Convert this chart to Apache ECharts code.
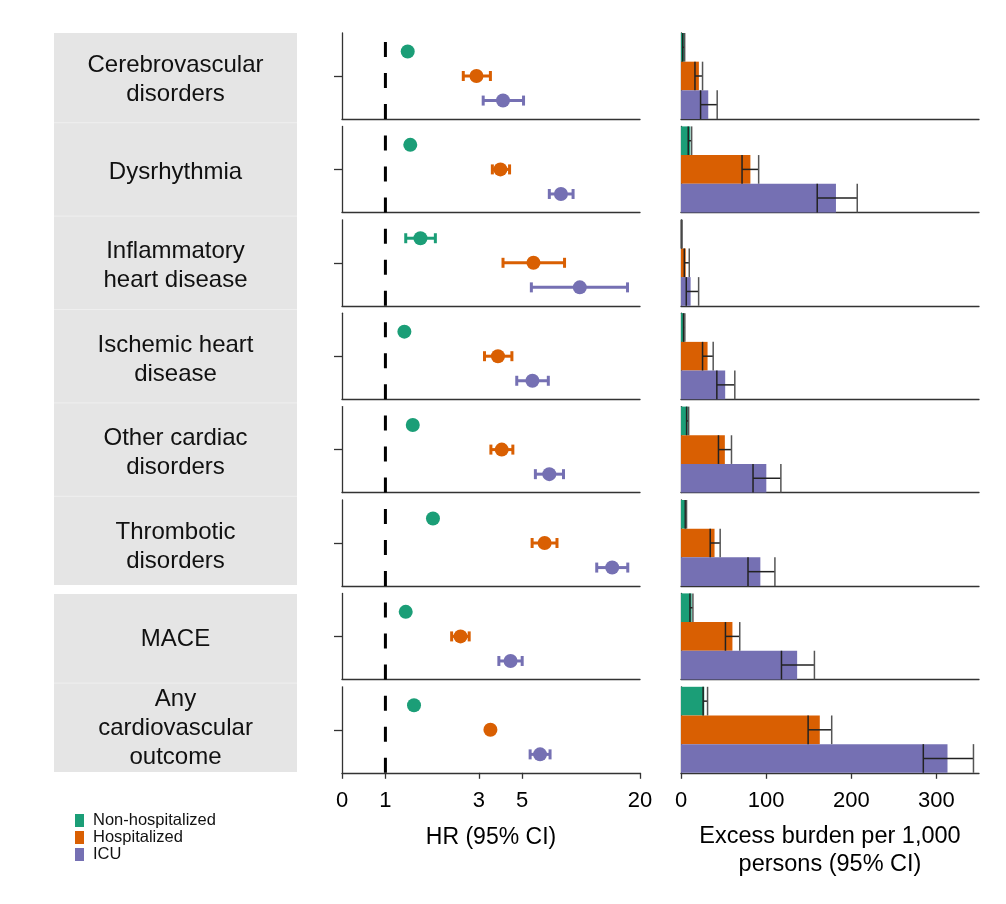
<!DOCTYPE html>
<html><head><meta charset="utf-8">
<script src="https://cdn.jsdelivr.net/npm/echarts@6/dist/echarts.min.js"></script>
<style>html,body{margin:0;padding:0;background:#fff}#c{width:1006px;height:904px}</style>
</head><body><div id="c"></div>
<script>
// ---- data ----
const outcomes = ['Cerebrovascular\ndisorders','Dysrhythmia','Inflammatory\nheart disease','Ischemic heart\ndisease','Other cardiac\ndisorders','Thrombotic\ndisorders','MACE','Any\ncardiovascular\noutcome'];
const groups = ['Non-hospitalized','Hospitalized','ICU'];
const colors = ['#1b9e77','#d95f02','#7570b3'];
// HR [estimate, lower, upper]
const hrNonHosp = [[1.30,1.27,1.33],[1.34,1.31,1.38],[1.51,1.27,1.80],[1.25,1.22,1.28],[1.38,1.35,1.41],[1.75,1.71,1.79],[1.27,1.25,1.29],[1.40,1.38,1.42]];
const hrHosp    = [[2.92,2.50,3.44],[3.87,3.52,4.31],[5.71,3.99,8.23],[3.76,3.21,4.43],[3.93,3.46,4.48],[6.51,5.62,7.53],[2.42,2.18,2.68],[3.44,3.33,3.56]];
const hrICU     = [[3.99,3.16,5.08],[7.89,6.88,9.10],[9.85,5.57,17.27],[5.64,4.69,6.80],[6.88,5.84,8.13],[14.42,12.02,17.32],[4.36,3.80,5.00],[6.17,5.49,6.94]];
// Excess burden per 1,000 [estimate, lower, upper]
const ebNonHosp = [[3.5,2.0,4.3],[11,8.5,12.5],[0.8,0.4,1.2],[3.9,3.0,4.5],[8,6.6,9],[5.8,5.0,6.5],[12.5,10.5,14],[27.3,26,31.2]];
const ebHosp    = [[21,16.4,25.3],[81.5,71.7,91.2],[5.5,3.9,9.7],[31.2,25.3,37.8],[51.5,44,59.3],[39.4,34.3,46],[60.4,52.2,69],[163,149.3,177]];
const ebICU     = [[32,23,42.5],[182,160,207],[11.3,6.2,20.7],[51.9,42.1,63.2],[100.2,84.6,117.3],[93.2,78.7,110.3],[136.4,118,156.7],[313,284.6,343.5]];
const hrTickValues = [0.6,1,3,5,20];
const hrTickLabels = ['0','1','3','5','20'];
const ebTickValues = [0,100,200,300];

// ---- build ----
const hrData = [hrNonHosp, hrHosp, hrICU];
const ebData = [ebNonHosp, ebHosp, ebICU];
const FONT = '"Liberation Sans", Arial, Helvetica, sans-serif';
const rowTop0 = 33, rowPitch = 93.4, rowH = 86;
const hrMin = Math.log10(0.6), hrMax = Math.log10(20);
const axisLineStyle = {color:'#333', width:1.3};
const fmtHR = v => { let best=0, d=1e9; hrTickValues.forEach((t,i)=>{const dd=Math.abs(Math.log10(t)-v); if(dd<d){d=dd;best=i;}}); return hrTickLabels[best]; };

const grids=[], xAxes=[], yAxes=[], series=[], graphics=[];
graphics.push({type:'rect', shape:{x:54,y:33,width:243,height:552}, style:{fill:'#e5e5e5'}, z:0});
graphics.push({type:'rect', shape:{x:54,y:594,width:243,height:178}, style:{fill:'#e5e5e5'}, z:0});

for (let r=0; r<8; r++) {
  const top = rowTop0 + r*rowPitch;
  const last = r===7;
  grids.push({left:342, top:top, width:298, height:rowH});
  grids.push({left:681, top:top, width:298, height:rowH});
  const gi0 = 2*r, gi1 = 2*r+1;
  xAxes.push({gridIndex:gi0, type:'value', min:hrMin, max:hrMax,
    axisLine:{show:true, onZero:false, lineStyle:axisLineStyle},
    axisTick:{show:last, customValues:hrTickValues.map(Math.log10), length:6, lineStyle:axisLineStyle},
    axisLabel:{show:last, customValues:hrTickValues.map(Math.log10), formatter:fmtHR, fontSize:22, color:'#000', margin:17, fontFamily:FONT},
    splitLine:{show:false},
    name: last ? 'HR (95% CI)' : '', nameLocation:'middle', nameGap:53,
    nameTextStyle:{fontSize:23, color:'#000', fontFamily:FONT}});
  yAxes.push({gridIndex:gi0, type:'value', min:0.25, max:3.75,
    axisLine:{show:true, onZero:false, lineStyle:axisLineStyle},
    axisTick:{show:true, customValues:[2], length:8, lineStyle:axisLineStyle},
    axisLabel:{show:false}, splitLine:{show:false}});
  xAxes.push({gridIndex:gi1, type:'value', min:0, max:350,
    axisLine:{show:true, onZero:false, lineStyle:axisLineStyle},
    axisTick:{show:last, customValues:ebTickValues, length:6, lineStyle:axisLineStyle},
    axisLabel:{show:last, customValues:ebTickValues, fontSize:22, color:'#000', margin:17, fontFamily:FONT},
    splitLine:{show:false},
    name: last ? 'Excess burden per 1,000\npersons (95% CI)' : '', nameLocation:'middle', nameGap:50,
    nameTextStyle:{fontSize:23.5, color:'#000', lineHeight:28, fontFamily:FONT}});
  yAxes.push({gridIndex:gi1, type:'category', data:groups, inverse:true,
    axisLine:{show:true, onZero:false, lineStyle:axisLineStyle},
    axisTick:{show:false}, axisLabel:{show:false}, splitLine:{show:false}});

  // reference line at HR = 1
  series.push({type:'line', xAxisIndex:gi0, yAxisIndex:gi0, data:[[0,0.25],[0,3.75]],
    symbol:'none', silent:true, z:1, lineStyle:{color:'#000', width:3, type:[15,16]}});
  // HR error bars
  series.push({type:'custom', xAxisIndex:gi0, yAxisIndex:gi0, silent:true, z:2,
    data: groups.map((g,k)=>[Math.log10(hrData[k][r][1]), Math.log10(hrData[k][r][2]), 3-k, k]),
    encode:{x:[0,1], y:2},
    renderItem:(params, api)=>{
      const a = api.coord([api.value(0), api.value(2)]);
      const b = api.coord([api.value(1), api.value(2)]);
      const c = colors[api.value(3)];
      const st = {stroke:c, lineWidth:3};
      return {type:'group', children:[
        {type:'line', shape:{x1:a[0],y1:a[1],x2:b[0],y2:b[1]}, style:st},
        {type:'line', shape:{x1:a[0],y1:a[1]-5,x2:a[0],y2:a[1]+5}, style:st},
        {type:'line', shape:{x1:b[0],y1:b[1]-5,x2:b[0],y2:b[1]+5}, style:st}
      ]};
    }});
  groups.forEach((g,k)=>{
    series.push({type:'scatter', name:g, xAxisIndex:gi0, yAxisIndex:gi0, z:3,
      data:[[Math.log10(hrData[k][r][0]), 3-k]], symbol:'circle', symbolSize:14,
      itemStyle:{color:colors[k], opacity:1}});
    series.push({type:'bar', name:g, stack:'eb'+r, xAxisIndex:gi1, yAxisIndex:gi1,
      barWidth:'100%', data: groups.map((_,j)=> j===k ? ebData[k][r][0] : '-'),
      itemStyle:{color:colors[k]}});
  });
  // burden error bars
  series.push({type:'custom', xAxisIndex:gi1, yAxisIndex:gi1, silent:true, z:4,
    data: groups.map((g,k)=>[ebData[k][r][1], ebData[k][r][2], k]),
    encode:{x:[0,1], y:2},
    renderItem:(params, api)=>{
      const a = api.coord([api.value(0), api.value(2)]);
      const b = api.coord([api.value(1), api.value(2)]);
      const h = api.size([0,1])[1]/2;
      return {type:'group', children:[
        {type:'line', shape:{x1:a[0],y1:a[1],x2:b[0],y2:b[1]}, style:{stroke:'#222', lineWidth:1.5}},
        {type:'line', shape:{x1:a[0],y1:a[1]-h,x2:a[0],y2:a[1]+h}, style:{stroke:'#222', lineWidth:1.5}},
        {type:'line', shape:{x1:b[0],y1:b[1]-h,x2:b[0],y2:b[1]+h}, style:{stroke:'#555', lineWidth:1.5}}
      ]};
    }});

  // left label
  const nLines = outcomes[r].split('\n').length;
  const dy = nLines === 3 ? -1.5 : (nLines === 2 ? 3.5 : 2.5);
  graphics.push({type:'text', z:2, style:{text:outcomes[r], x:175.5, y:top+rowH/2+dy,
    align:'center', verticalAlign:'middle', font:'24px '+FONT, lineHeight:29, fill:'#111'}});
  if (r<7 && r!==5) {
    const sy = top + rowH + (rowPitch-rowH)/2;
    graphics.push({type:'line', z:1, shape:{x1:54,y1:sy,x2:297,y2:sy}, style:{stroke:'#efefef', lineWidth:1}});
  }
}

const chart = echarts.init(document.getElementById('c'));
chart.setOption({
  animation:false,
  backgroundColor:'#fff',
  textStyle:{fontFamily:FONT},
  grid:grids, xAxis:xAxes, yAxis:yAxes, series:series,
  graphic:graphics,
  legend:{data:groups, orient:'vertical', left:70, top:807, padding:5, icon:'rect', itemWidth:9, itemHeight:13, itemGap:0,
    selectedMode:false, textStyle:{fontSize:16.5, lineHeight:17, color:'#111', fontFamily:FONT, padding:[0,0,0,4]}}
});
</script></body></html>
